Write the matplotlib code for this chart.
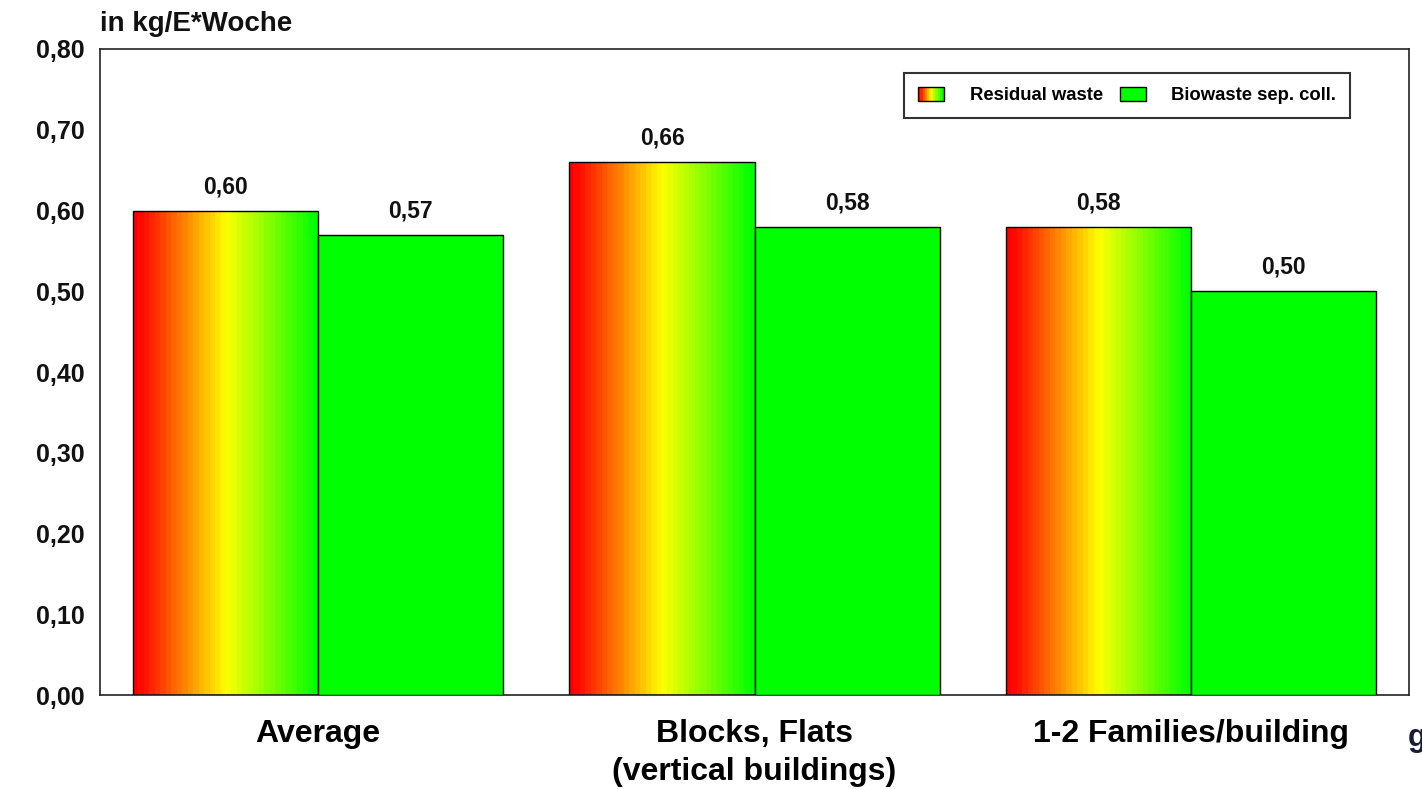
import matplotlib
matplotlib.use("Agg")
import matplotlib.pyplot as plt
import numpy as np
from matplotlib.colors import LinearSegmentedColormap
from matplotlib.legend_handler import HandlerBase
from matplotlib.patches import Rectangle
from matplotlib.ticker import FuncFormatter

plt.rcParams.update({
    "font.family": ["Liberation Sans", "DejaVu Sans"],
    "font.weight": "bold",
})

# ---- data (kg per inhabitant and week) -------------------------------------
categories = ["Average", "Blocks, Flats\n(vertical buildings)", "1-2 Families/building"]
residual = [0.60, 0.66, 0.58]
biowaste = [0.57, 0.58, 0.50]
series_labels = ["Residual waste", "Biowaste sep. coll."]

C_GREEN = "#00FF00"
GRAD = LinearSegmentedColormap.from_list(
    "rwg", [(0.0, "#FF0000"), (0.06, "#FF1500"), (0.5, "#FFFF00"), (1.0, "#00FF00")])
N_BANDS = 34


class GradientHandler(HandlerBase):
    def create_artists(self, legend, orig_handle, xdescent, ydescent,
                       width, height, fontsize, trans):
        n = 12
        arts = []
        for i in range(n):
            r = Rectangle((-xdescent + i * width / n, -ydescent), width / n, height,
                          facecolor=GRAD(i / (n - 1)), linewidth=0, transform=trans)
            arts.append(r)
        arts.append(Rectangle((-xdescent, -ydescent), width, height, facecolor="none",
                              edgecolor="black", linewidth=1.0, transform=trans))
        return arts


fig = plt.figure(figsize=(14.22, 7.89), dpi=100)
ax = fig.add_axes([0.0703, 0.1191, 0.9206, 0.8188])

x = np.arange(len(categories))
w = 0.424
b_res = ax.bar(x - w / 2, residual, w, facecolor="none", edgecolor="black",
               linewidth=1.0, zorder=3)
b_bio = ax.bar(x + w / 2, biowaste, w, color=C_GREEN, edgecolor="black",
               linewidth=1.0, zorder=3)

# stepped red-yellow-green fill, clipped to each residual bar
grad = np.linspace(0, 1, N_BANDS).reshape(1, -1)
for rect in b_res:
    x0, y0 = rect.get_x(), rect.get_y()
    im = ax.imshow(grad, cmap=GRAD, aspect="auto", interpolation="nearest",
                   extent=(x0, x0 + rect.get_width(), y0, y0 + rect.get_height()),
                   zorder=2)
    im.set_clip_path(rect)

for bars in (b_res, b_bio):
    for rect in bars:
        v = rect.get_height()
        ax.annotate(f"{v:.2f}".replace(".", ","),
                    xy=(rect.get_x() + rect.get_width() / 2, v),
                    xytext=(0, 9), textcoords="offset points",
                    ha="center", va="bottom", fontsize=16.5, color="#111111")

ax.set_xlim(-0.5, 2.5)
ax.set_ylim(0, 0.8)
ax.set_yticks(np.arange(0, 0.81, 0.1))
ax.yaxis.set_major_formatter(FuncFormatter(lambda v, p: f"{v:.2f}".replace(".", ",")))
ax.set_xticks(x)
ax.set_xticklabels(categories, fontsize=23, linespacing=1.38)
ax.tick_params(axis="y", length=0, pad=11, labelsize=18, labelcolor="#111111")
ax.tick_params(axis="x", length=0, pad=17)
for s in ax.spines.values():
    s.set_linewidth(1.2)
    s.set_color("#222222")

fig.text(0.0703, 0.953, "in kg/E*Woche", fontsize=20, color="#111111",
         ha="left", va="bottom")

proxy_res = Rectangle((0, 0), 1, 1)
proxy_bio = Rectangle((0, 0), 1, 1, facecolor=C_GREEN, edgecolor="black")
leg = ax.legend([proxy_res, proxy_bio], series_labels, ncol=2,
                handler_map={proxy_res: GradientHandler()},
                loc="upper right", bbox_to_anchor=(0.955, 0.963),
                fontsize=13.3, fancybox=False, framealpha=1, edgecolor="#333333",
                handlelength=1.4, handleheight=0.8, handletextpad=1.4,
                columnspacing=0.9, borderpad=0.75, borderaxespad=0)
leg.get_frame().set_linewidth(1.5)

# clipped label fragment at the right edge of the original slide
fig.text(1408 / 1422, 1 - 738 / 789, "g", fontsize=22, color="#1a1a3a",
         ha="left", va="center")

fig.savefig("out.png", dpi=100)
